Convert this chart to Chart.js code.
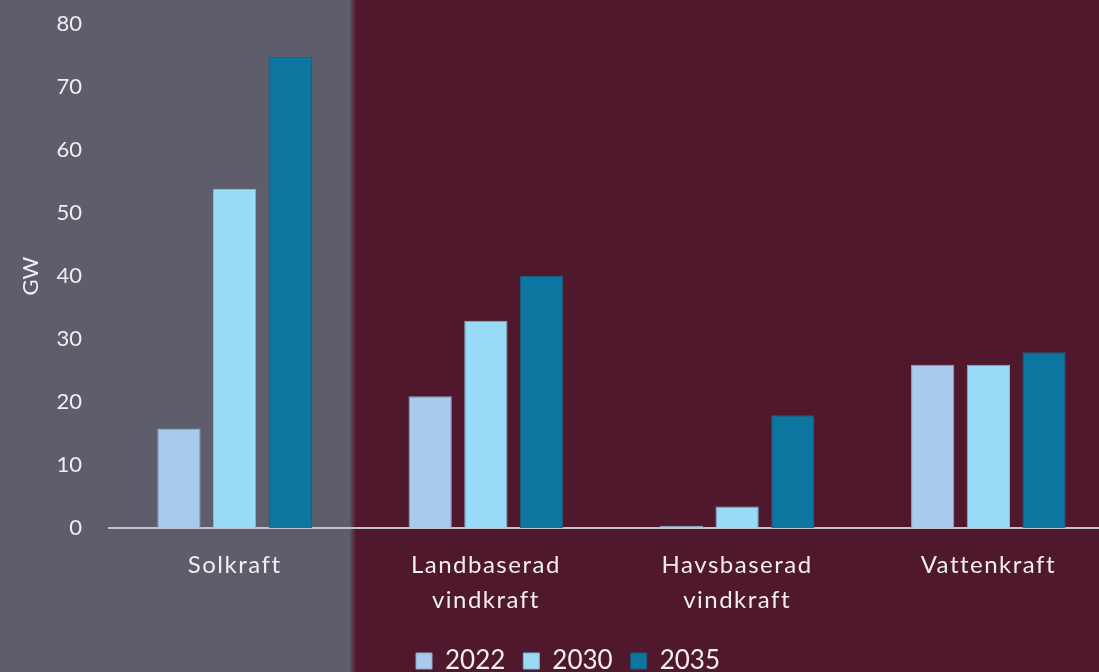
<!DOCTYPE html>
<html>
<head>
<meta charset="utf-8">
<script src="https://cdn.jsdelivr.net/npm/chart.js@4"></script>
<style>
  html, body { margin: 0; padding: 0; background: #50182c; }
  #wrap { width: 1099px; height: 672px; overflow: hidden; position: relative; }
  canvas { display: block; }
</style>
</head>
<body>
<div id="wrap">
  <canvas id="chart" width="1158" height="684"></canvas>
</div>
<script>
// Installerad effekt per kraftslag, GW
const kategorier = ['Solkraft', ['Landbaserad', 'vindkraft'], ['Havsbaserad', 'vindkraft'], 'Vattenkraft']
const ar = ['2022', '2030', '2035']
const v2022 = [15.8, 20.9, 0.35, 25.9]
const v2030 = [53.8, 32.9, 3.4, 25.9]
const v2035 = [74.8, 40.0, 17.9, 27.9]
const yTicks = [0, 10, 20, 30, 40, 50, 60, 70, 80]

const farger = ['#a8caec', '#97dbf7', '#0c76a0']
const kanter = ['#8ea9c9', '#7fb9d4', '#1b5d82']
const textFarg = '#f0eef0'
const typsnitt = 'Lato'
const vikt = '400'

// grå panel till vänster, vinröd bakgrund för resten
const bakgrund = {
	id: 'bakgrund',
	beforeDraw(chart) {
		const { ctx, width, height } = chart
		ctx.save()
		ctx.fillStyle = '#50182c'
		ctx.fillRect(0, 0, width, height)
		ctx.fillStyle = '#5e5d6b'
		ctx.fillRect(0, 0, 349, height)
		const g = ctx.createLinearGradient(349, 0, 356, 0)
		g.addColorStop(0, '#5e5d6b')
		g.addColorStop(1, '#50182c')
		ctx.fillStyle = g
		ctx.fillRect(349, 0, 7, height)
		ctx.restore()
		ctx.letterSpacing = '0px'
	},
	// x-etiketterna ritas efter staplarna (ticks.z = 1) med lite glesare text
	afterDatasetsDraw(chart) {
		chart.ctx.letterSpacing = '1.5px'
	},
	afterDraw(chart) {
		chart.ctx.letterSpacing = '0px'
	},
}

const serier = [v2022, v2030, v2035].map((data, i) => ({
	label: ar[i],
	data: data,
	backgroundColor: farger[i],
	borderColor: kanter[i],
	borderWidth: 1,
	categoryPercentage: 0.665,
	barPercentage: 0.777,
}))

const ctx = document.getElementById('chart').getContext('2d')
new Chart(ctx, {
	type: 'bar',
	data: { labels: kategorier, datasets: serier },
	plugins: [bakgrund],
	options: {
		responsive: false,
		devicePixelRatio: 1,
		animation: false,
		layout: { padding: { left: 22, right: 44, top: 24, bottom: 0 } },
		plugins: {
			tooltip: { enabled: false },
			legend: {
				position: 'bottom',
				labels: {
					color: textFarg,
					font: { family: typsnitt, size: 26, weight: vikt },
					boxWidth: 16,
					boxHeight: 16,
					padding: 18,
				},
			},
		},
		scales: {
			x: {
				grid: { display: false, drawTicks: false },
				border: { display: true, color: '#c4c2c6', width: 2 },
				ticks: {
					z: 1,
					color: textFarg,
					font: { family: typsnitt, size: 24, weight: vikt, lineHeight: 1.46 },
					padding: 20,
					maxRotation: 0,
				},
				afterFit(scale) {
					scale.height = 102
				},
			},
			y: {
				min: 0,
				max: 80,
				afterBuildTicks(scale) {
					scale.ticks = yTicks.map((v) => ({ value: v }))
				},
				grid: { display: false, drawTicks: false },
				border: { display: false },
				ticks: {
					color: textFarg,
					font: { family: typsnitt, size: 22, weight: vikt },
					padding: 27,
				},
				title: {
					display: true,
					text: 'GW',
					color: textFarg,
					font: { family: typsnitt, size: 22, weight: vikt, lineHeight: 0.8 },
					padding: { top: 0, bottom: 0 },
				},
				afterFit(scale) {
					// fast bredd, och etikettavståndet ska inte tränga ner diagramytan
					scale.width = 87
					scale.paddingTop = 0
					scale.paddingBottom = 0
				},
			},
		},
	},
})
</script>
</body>
</html>
